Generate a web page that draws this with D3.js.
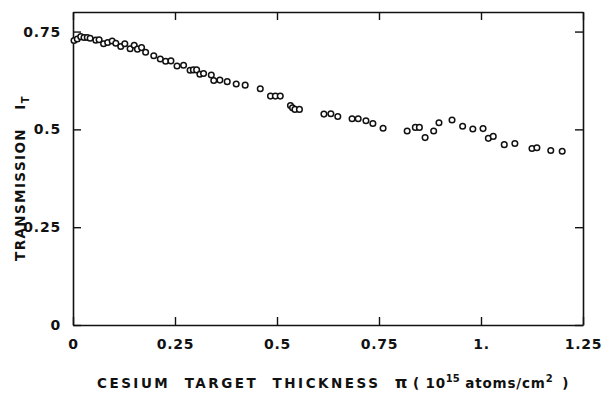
<!DOCTYPE html>
<html>
<head>
<meta charset="utf-8">
<script src="https://cdn.jsdelivr.net/npm/d3@7"></script>
<style>
  body { margin: 0; background: #fff; }
  text { font-family: "DejaVu Sans", sans-serif; font-weight: bold; fill: #111; }
</style>
</head>
<body>
<script>
// data
var thickness = [0.0025, 0.0105, 0.019, 0.027, 0.035, 0.042, 0.056, 0.064, 0.075, 0.085,
  0.096, 0.105, 0.117, 0.127, 0.140, 0.150, 0.158, 0.168, 0.178, 0.198,
  0.214, 0.227, 0.240, 0.255, 0.271, 0.287, 0.295, 0.303, 0.311, 0.320,
  0.339, 0.345, 0.360, 0.378, 0.400, 0.422, 0.459, 0.484, 0.496, 0.508,
  0.533, 0.538, 0.544, 0.555, 0.615, 0.632, 0.649, 0.684, 0.699, 0.718,
  0.735, 0.760, 0.819, 0.839, 0.849, 0.863, 0.884, 0.897, 0.929, 0.955,
  0.980, 1.005, 1.018, 1.030, 1.057, 1.083, 1.125, 1.137, 1.171, 1.199];
var transmission = [0.727, 0.731, 0.737, 0.735, 0.735, 0.733, 0.728, 0.729, 0.719, 0.722,
  0.726, 0.720, 0.712, 0.719, 0.706, 0.715, 0.705, 0.709, 0.697, 0.688,
  0.680, 0.674, 0.675, 0.662, 0.664, 0.651, 0.652, 0.652, 0.641, 0.643,
  0.639, 0.625, 0.626, 0.622, 0.616, 0.613, 0.604, 0.585, 0.585, 0.585,
  0.561, 0.555, 0.551, 0.551, 0.539, 0.540, 0.533, 0.527, 0.527, 0.522,
  0.515, 0.503, 0.496, 0.505, 0.505, 0.479, 0.496, 0.517, 0.524, 0.508,
  0.501, 0.502, 0.477, 0.482, 0.461, 0.464, 0.451, 0.453, 0.446, 0.444];
var xTicks = [0, 0.25, 0.5, 0.75, 1, 1.25];
var xTickLabels = ["0", "0.25", "0.5", "0.75", "1.", "1.25"];
var yTicks = [0, 0.25, 0.5, 0.75];
var yTickLabels = ["0", "0.25", "0.5", "0.75"];

// plot box
var box = { left: 73, top: 12, width: 510, height: 313 };

var svg = d3.select('body').append('svg')
  .attr('width', 611)
  .attr('height', 396);

var x = d3.scaleLinear().domain([0, 1.25]).range([box.left, box.left + box.width]);
var y = d3.scaleLinear().domain([0, 0.8]).range([box.top + box.height, box.top]);

// frame + ticks (inward on all four sides)
var axes = svg.append('g').attr('class', 'axes');

axes.append('g')
  .attr('transform', 'translate(0,' + (box.top + box.height) + ')')
  .call(d3.axisBottom(x).tickValues(xTicks).tickSizeInner(-8).tickSizeOuter(0)
    .tickFormat(function(d, i) { return xTickLabels[i]; }).tickPadding(14));

axes.append('g')
  .attr('transform', 'translate(0,' + box.top + ')')
  .call(d3.axisTop(x).tickValues(xTicks).tickSizeInner(-8).tickSizeOuter(0)
    .tickFormat(''));

axes.append('g')
  .attr('transform', 'translate(' + box.left + ',0)')
  .call(d3.axisLeft(y).tickValues(yTicks).tickSizeInner(-8).tickSizeOuter(0)
    .tickFormat(function(d, i) { return yTickLabels[i]; }).tickPadding(12));

axes.append('g')
  .attr('transform', 'translate(' + (box.left + box.width) + ',0)')
  .call(d3.axisRight(y).tickValues(yTicks).tickSizeInner(-8).tickSizeOuter(0)
    .tickFormat(''));

axes.selectAll('.domain').attr('stroke', '#111').attr('stroke-width', 1.6);
axes.selectAll('.tick line').attr('stroke', '#111').attr('stroke-width', 1.4);
axes.selectAll('.tick text')
  .style('font-family', '"DejaVu Sans", sans-serif')
  .style('font-weight', 'bold')
  .style('font-size', '14px')
  .style('letter-spacing', '0.8px')
  .attr('fill', '#111');

// points
svg.append('g').selectAll('circle')
  .data(thickness)
  .enter()
  .append('circle')
  .attr('cx', function(d) { return x(d); })
  .attr('cy', function(d, i) { return y(transmission[i]); })
  .attr('r', 2.8)
  .attr('fill', '#fff')
  .attr('stroke', '#111')
  .attr('stroke-width', 1.5);

// x label
var xl = svg.append('text')
  .attr('x', 334)
  .attr('y', 388)
  .attr('text-anchor', 'middle')
  .style('font-size', '13.5px')
  .style('letter-spacing', '2.5px');
xl.append('tspan').text('CESIUM\u00a0\u00a0TARGET\u00a0\u00a0THICKNESS\u00a0\u00a0');
xl.append('tspan').style('font-size', '16px').style('letter-spacing', '0px').text('π\u00a0');
xl.append('tspan').style('letter-spacing', '0.8px').text('(\u00a010');
xl.append('tspan').attr('dy', -6).style('font-size', '10px').style('letter-spacing', '0px').text('15');
xl.append('tspan').attr('dy', 6).style('letter-spacing', '0.8px').text('\u00a0atoms/cm');
xl.append('tspan').attr('dy', -6).style('font-size', '10px').text('2');
xl.append('tspan').attr('dy', 6).text('\u00a0)');

// y label
var yl = svg.append('text')
  .attr('transform', 'translate(25,178) rotate(-90)')
  .attr('text-anchor', 'middle')
  .style('font-size', '13.5px')
  .style('letter-spacing', '1.4px');
yl.append('tspan').text('TRANSMISSION\u00a0\u00a0\u00a0I');
yl.append('tspan').attr('dy', 4).style('font-size', '10px').text('T');
</script>
</body>
</html>
